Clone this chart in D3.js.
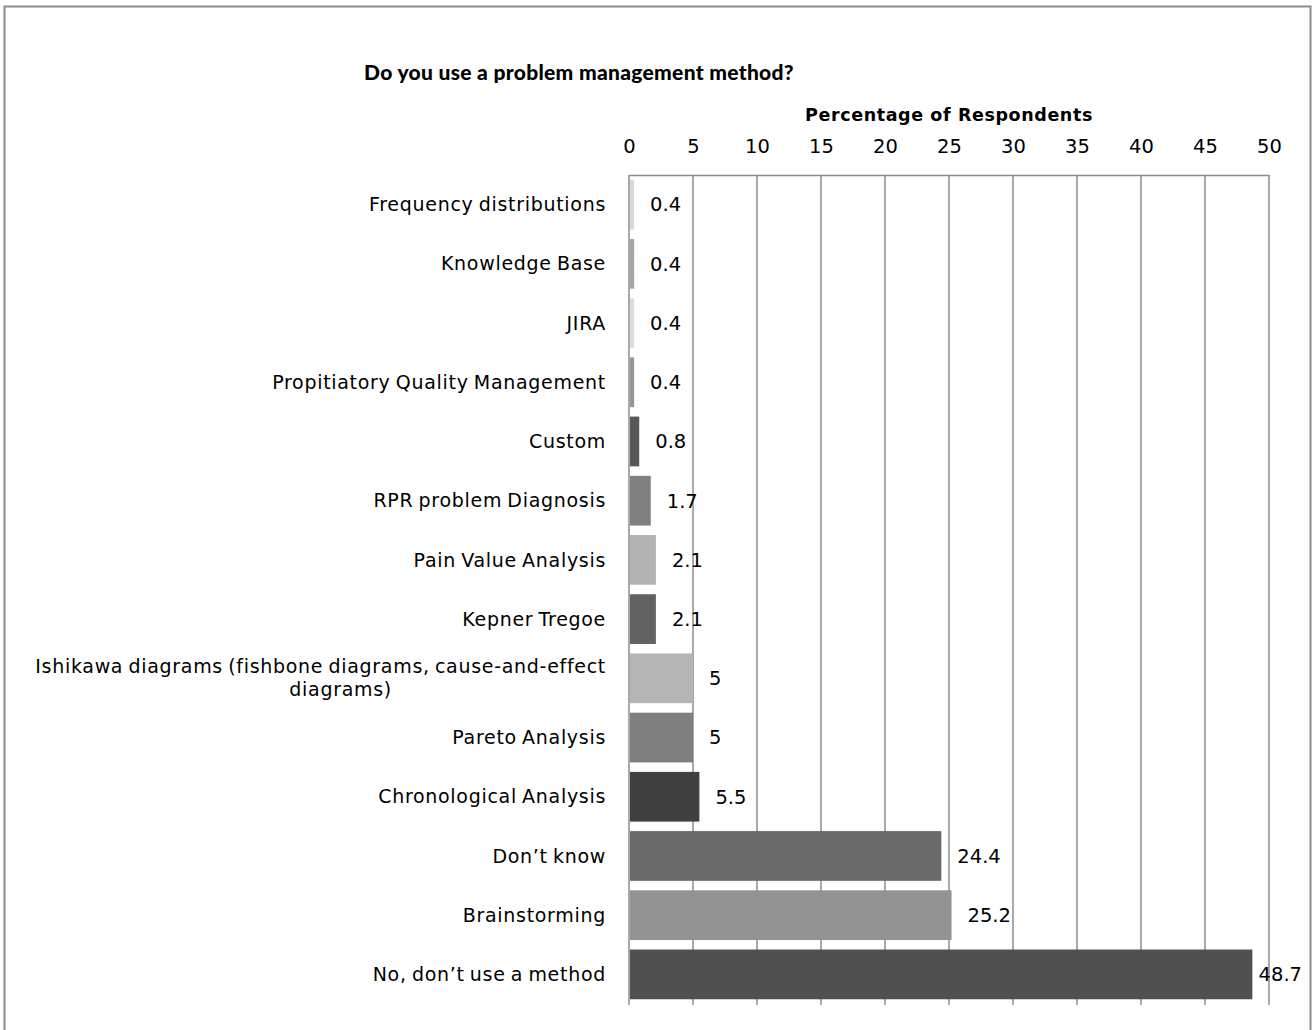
<!DOCTYPE html>
<html>
<head>
<meta charset="utf-8">
<script src="https://cdn.jsdelivr.net/npm/d3@7/dist/d3.min.js"></script>
<style>
  html, body { margin: 0; padding: 0; background: #fff; }
  svg { display: block; font-family: "DejaVu Sans", sans-serif; }
</style>
</head>
<body>
<svg id="chart" width="1314" height="1030"></svg>
<script>
const categories = [
  "Frequency distributions",
  "Knowledge Base",
  "JIRA",
  "Propitiatory Quality Management",
  "Custom",
  "RPR problem Diagnosis",
  "Pain Value Analysis",
  "Kepner Tregoe",
  "Ishikawa diagrams (fishbone diagrams, cause-and-effect|diagrams)",
  "Pareto Analysis",
  "Chronological Analysis",
  "Don\u2019t know",
  "Brainstorming",
  "No, don\u2019t use a method"
];
const values = [0.4, 0.4, 0.4, 0.4, 0.8, 1.7, 2.1, 2.1, 5, 5, 5.5, 24.4, 25.2, 48.7];
const valueLabels = ["0.4", "0.4", "0.4", "0.4", "0.8", "1.7", "2.1", "2.1", "5", "5", "5.5", "24.4", "25.2", "48.7"];
const barColors = ["#d9d9d9", "#a6a6a6", "#dddddd", "#969696", "#575757", "#808080", "#b3b3b3",
                   "#626262", "#b5b5b5", "#7f7f7f", "#404040", "#6a6a6a", "#939393", "#505050"];
const tickValues = [0, 5, 10, 15, 20, 25, 30, 35, 40, 45, 50];
const titleText = "Do you use a problem management method?";
const axisTitle = "Percentage of Respondents";

const svg = d3.select("#chart");

// outer frame
svg.append("rect")
  .attr("x", 4.5).attr("y", 6.5)
  .attr("width", 1306).attr("height", 1040)
  .attr("fill", "none").attr("stroke", "#8c8c8c").attr("stroke-width", 2);

const pLeft = 629, pRight = 1269, pTop = 175, pBottom = 1004;

const x = d3.scaleLinear().domain([0, 50]).range([pLeft, pRight]);
const y = d3.scaleBand().domain(categories).range([pTop, pBottom])
  .paddingInner(0.16).paddingOuter(0.08);

// title
svg.append("text")
  .attr("x", 579).attr("y", 80)
  .attr("text-anchor", "middle")
  .attr("font-family", "Lato, 'DejaVu Sans', sans-serif")
  .attr("font-weight", "900").attr("font-size", 21)
  .attr("letter-spacing", 0.3)
  .attr("fill", "#000")
  .text(titleText);

// axis title
svg.append("text")
  .attr("x", (pLeft + pRight) / 2).attr("y", 121)
  .attr("text-anchor", "middle")
  .attr("font-weight", "bold").attr("font-size", 17.5)
  .attr("letter-spacing", 0.6)
  .attr("fill", "#000")
  .text(axisTitle);

// gridlines (vertical)
const grid = svg.append("g");
grid.selectAll("line.grid")
  .data(tickValues)
  .join("line")
  .attr("class", "grid")
  .attr("x1", d => x(d)).attr("x2", d => x(d))
  .attr("y1", pTop).attr("y2", pBottom + 1)
  .attr("stroke", "#8c8c8c").attr("stroke-width", 1.5);

// top axis
const axis = d3.axisTop(x).tickValues(tickValues).tickSize(0).tickPadding(22)
  .tickFormat(d3.format("d"));
const ga = svg.append("g").attr("transform", `translate(0,${pTop})`).call(axis);
ga.select(".domain").attr("stroke", "#8c8c8c").attr("stroke-width", 1.5);
ga.selectAll(".tick text")
  .attr("font-family", "DejaVu Sans, sans-serif")
  .attr("font-size", 19.5).attr("fill", "#000");

// bars
svg.append("g").selectAll("rect")
  .data(categories)
  .join("rect")
  .attr("x", x(0) + 1)
  .attr("y", d => y(d))
  .attr("width", (d, i) => x(values[i]) - x(0) - 1)
  .attr("height", y.bandwidth())
  .attr("fill", (d, i) => barColors[i]);

// value labels
const vl = svg.append("g").selectAll("text")
  .data(categories)
  .join("text")
  .attr("y", d => y(d) + y.bandwidth() / 2)
  .attr("dy", "0.35em")
  .attr("font-size", 19.5).attr("fill", "#000")
  .text((d, i) => valueLabels[i]);
vl.each(function(d, i) {
  const w = this.getComputedTextLength();
  const xs = Math.min(x(values[i]) + 16, 1302 - w);
  d3.select(this).attr("x", xs);
});

// category labels
const cl = svg.append("g").selectAll("text")
  .data(categories)
  .join("text")
  .attr("font-size", 19).attr("letter-spacing", 0.7).attr("word-spacing", -1.5)
  .attr("fill", "#000");
cl.each(function(d) {
  const lines = d.split("|");
  const t = d3.select(this);
  const cy = y(d) + y.bandwidth() / 2;
  if (lines.length === 1) {
    t.attr("x", 606).attr("y", cy).attr("dy", "0.35em")
      .attr("text-anchor", "end").text(lines[0]);
  } else {
    const lh = 23;
    const t1 = t.append("tspan").attr("x", 606).attr("y", cy - lh / 2).attr("dy", "0.35em")
      .attr("text-anchor", "end").text(lines[0]);
    const w = t1.node().getComputedTextLength();
    t.append("tspan").attr("x", 606 - w / 2 + 20).attr("y", cy + lh / 2).attr("dy", "0.35em")
      .attr("text-anchor", "middle").text(lines[1]);
  }
});
</script>
</body>
</html>
